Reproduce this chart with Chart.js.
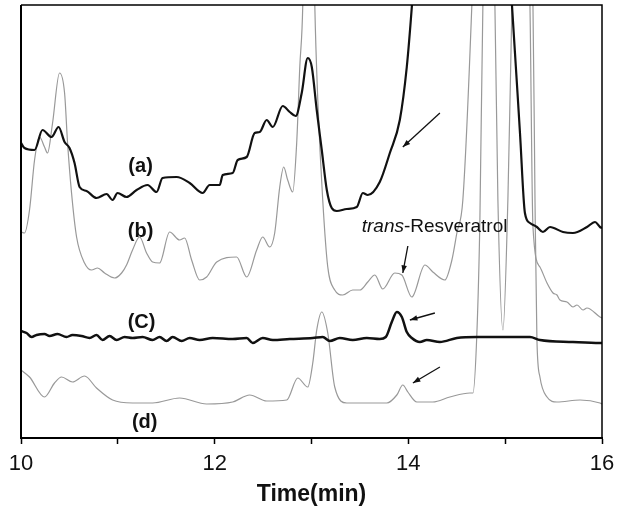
<!DOCTYPE html>
<html>
<head>
<meta charset="utf-8">
<script src="https://cdn.jsdelivr.net/npm/chart.js@4.4.1/dist/chart.umd.min.js"></script>
<style>
  html, body { margin: 0; padding: 0; background: #fff; }
  #wrap { width: 625px; height: 506px; }
</style>
</head>
<body>
<div id="wrap"><canvas id="chart" width="625" height="506"></canvas></div>
<script>
// ==== Data: retention time (min) and detector signal (arbitrary units, 433 = top of frame) ====
const aTime = [10.00, 10.036, 10.14, 10.222, 10.315, 10.388, 10.45, 10.501, 10.553, 10.605, 10.677, 10.78, 10.884, 10.946, 10.997, 11.09, 11.194, 11.307, 11.40, 11.462, 11.607, 11.742, 11.876, 11.948, 12.052, 12.083, 12.186, 12.238, 12.331, 12.413, 12.465, 12.537, 12.60, 12.703, 12.775, 12.837, 12.899, 12.961, 13.003, 13.054, 13.106, 13.158, 13.209, 13.261, 13.364, 13.468, 13.53, 13.581, 13.705, 13.809, 13.912, 13.984, 14.036, 14.30, 14.80, 15.07, 15.153, 15.204, 15.256, 15.328, 15.39, 15.463, 15.597, 15.70, 15.845, 15.928, 15.979, 16.00];
const aSignal = [295, 290, 288, 308, 301, 311, 296, 290, 275, 251, 247, 240, 244, 238, 245, 241, 248, 253, 246, 260, 261, 255, 245, 253, 253, 263, 265, 278, 281, 305, 306, 318, 311, 332, 326, 322, 345, 380, 371, 328, 288, 248, 230, 227, 229, 231, 245, 243, 256, 285, 318, 371, 431, 800, 800, 433, 305, 225, 215, 211, 206, 211, 206, 205, 211, 216, 211, 210];

const bTime = [10.00, 10.036, 10.088, 10.14, 10.191, 10.243, 10.274, 10.326, 10.398, 10.45, 10.481, 10.522, 10.574, 10.656, 10.729, 10.791, 10.863, 10.966, 11.039, 11.09, 11.152, 11.225, 11.297, 11.359, 11.431, 11.535, 11.638, 11.69, 11.762, 11.845, 11.917, 12.021, 12.227, 12.331, 12.434, 12.496, 12.568, 12.62, 12.672, 12.713, 12.754, 12.806, 12.847, 12.879, 12.91, 12.97, 13.034, 13.065, 13.116, 13.168, 13.24, 13.323, 13.426, 13.499, 13.581, 13.654, 13.736, 13.86, 13.933, 14.036, 14.171, 14.253, 14.377, 14.45, 14.501, 14.563, 14.656, 14.78, 14.894, 14.925, 14.977, 15.028, 15.07, 15.16, 15.256, 15.287, 15.359, 15.432, 15.494, 15.535, 15.566, 15.638, 15.70, 15.742, 15.804, 15.845, 15.979, 16.00];
const bSignal = [206, 205, 228, 278, 301, 291, 285, 315, 365, 345, 295, 245, 201, 175, 168, 170, 165, 160, 165, 173, 188, 201, 185, 176, 175, 206, 198, 200, 178, 158, 161, 176, 181, 161, 188, 201, 191, 205, 251, 271, 258, 246, 295, 371, 433, 800, 433, 338, 238, 171, 148, 143, 148, 148, 156, 163, 149, 165, 163, 141, 173, 166, 158, 178, 205, 238, 433, 800, 433, 238, 108, 238, 433, 800, 433, 211, 171, 155, 145, 143, 138, 136, 131, 133, 128, 130, 121, 120];

const cTime = [10.00, 10.057, 10.109, 10.16, 10.243, 10.295, 10.377, 10.47, 10.532, 10.625, 10.708, 10.78, 10.842, 10.915, 10.987, 11.07, 11.152, 11.256, 11.359, 11.431, 11.504, 11.566, 11.659, 11.742, 11.845, 11.979, 12.186, 12.331, 12.393, 12.496, 12.60, 12.775, 13.013, 13.116, 13.189, 13.292, 13.426, 13.571, 13.705, 13.767, 13.829, 13.881, 13.933, 13.984, 14.036, 14.119, 14.191, 14.326, 14.501, 14.708, 15.018, 15.256, 15.359, 15.70, 15.979, 16.00];
const cSignal = [107, 105, 101, 103, 104, 102, 104, 101, 103, 102, 100, 103, 98, 102, 98, 101, 100, 101, 98, 101, 97, 101, 97, 100, 98, 100, 99, 100, 95, 100, 98, 99, 100, 101, 97, 100, 98, 100, 99, 101, 116, 126, 121, 106, 100, 96, 98, 96, 100, 101, 101, 101, 98, 96, 95, 95];

const dTime = [10.00, 10.088, 10.243, 10.346, 10.419, 10.532, 10.656, 10.78, 10.946, 11.152, 11.359, 11.638, 11.917, 12.186, 12.362, 12.537, 12.744, 12.858, 12.961, 13.013, 13.054, 13.106, 13.168, 13.24, 13.364, 13.571, 13.778, 13.881, 13.943, 13.995, 14.088, 14.253, 14.429, 14.636, 14.667, 14.708, 14.739, 14.77, 15.00, 15.287, 15.308, 15.328, 15.359, 15.432, 15.535, 15.773, 15.979, 16.00];
const dSignal = [68, 61, 41, 55, 61, 56, 62, 50, 38, 35, 35, 40, 34, 36, 43, 37, 38, 60, 51, 75, 108, 126, 105, 51, 35, 35, 35, 43, 53, 46, 36, 36, 41, 45, 45, 105, 218, 433, 800, 433, 238, 98, 61, 41, 36, 38, 35, 34];

const xTicks = [10, 11, 12, 13, 14, 15, 16];
const xLabels = ['10', '', '12', '', '14', '', '16'];

// ==== Annotations (data coordinates) ====
const traceLabels = [
  { text: '(a)', x: 11.235, y: 272 },
  { text: '(b)', x: 11.235, y: 207 },
  { text: '(C)', x: 11.245, y: 116 },
  { text: '(d)', x: 11.277, y: 16 }
];
const peakName = { italic: 'trans', rest: '-Resveratrol', x: 13.519, y: 211 };
const arrows = [
  { x1: 14.326, y1: 325, x2: 13.943, y2: 291 },
  { x1: 13.995, y1: 192, x2: 13.943, y2: 165 },
  { x1: 14.274, y1: 125, x2: 14.016, y2: 118 },
  { x1: 14.326, y1: 71, x2: 14.047, y2: 55 }
];

function toPoints(xs, ys) {
  return xs.map((x, i) => ({ x: x, y: ys[i] }));
}

function trace(data, color, width) {
  return {
    data: data,
    borderColor: color,
    borderWidth: width,
    pointRadius: 0,
    cubicInterpolationMode: 'monotone',
    fill: false
  };
}

// ==== Frame, labels and arrows ====
const decorPlugin = {
  id: 'decor',
  afterDatasetsDraw(chart) {
    const ctx = chart.ctx;
    const a = chart.chartArea;
    const xs = chart.scales.x;
    const ys = chart.scales.y;
    ctx.save();

    // frame: left, top, right (bottom is the x axis border)
    ctx.strokeStyle = '#000';
    ctx.lineWidth = 2;
    ctx.beginPath();
    ctx.moveTo(a.left, a.bottom);
    ctx.lineTo(a.left, a.top);
    ctx.stroke();
    ctx.lineWidth = 1.5;
    ctx.beginPath();
    ctx.moveTo(a.left, a.top);
    ctx.lineTo(a.right, a.top);
    ctx.lineTo(a.right, a.bottom);
    ctx.stroke();

    ctx.fillStyle = '#111';
    ctx.textBaseline = 'middle';
    ctx.textAlign = 'center';
    ctx.font = 'bold 20px "Liberation Sans", Arial, sans-serif';
    traceLabels.forEach(l => {
      ctx.fillText(l.text, xs.getPixelForValue(l.x), ys.getPixelForValue(l.y));
    });

    ctx.textAlign = 'left';
    let px = xs.getPixelForValue(peakName.x);
    const py = ys.getPixelForValue(peakName.y);
    ctx.font = 'italic 19px "Liberation Sans", Arial, sans-serif';
    ctx.fillText(peakName.italic, px, py);
    px += ctx.measureText(peakName.italic).width;
    ctx.font = '19px "Liberation Sans", Arial, sans-serif';
    ctx.fillText(peakName.rest, px, py);

    ctx.strokeStyle = '#111';
    ctx.lineWidth = 1.3;
    arrows.forEach(ar => {
      const x1 = xs.getPixelForValue(ar.x1), y1 = ys.getPixelForValue(ar.y1);
      const x2 = xs.getPixelForValue(ar.x2), y2 = ys.getPixelForValue(ar.y2);
      const ang = Math.atan2(y2 - y1, x2 - x1);
      ctx.beginPath();
      ctx.moveTo(x1, y1);
      ctx.lineTo(x2, y2);
      ctx.stroke();
      ctx.beginPath();
      ctx.moveTo(x2, y2);
      ctx.lineTo(x2 - 8 * Math.cos(ang - 0.35), y2 - 8 * Math.sin(ang - 0.35));
      ctx.lineTo(x2 - 8 * Math.cos(ang + 0.35), y2 - 8 * Math.sin(ang + 0.35));
      ctx.closePath();
      ctx.fillStyle = '#111';
      ctx.fill();
    });
    ctx.restore();
  }
};

new Chart(document.getElementById('chart').getContext('2d'), {
  type: 'line',
  data: {
    datasets: [
      trace(toPoints(aTime, aSignal), '#111', 2.2),
      trace(toPoints(cTime, cSignal), '#111', 2.5),
      trace(toPoints(bTime, bSignal), '#999', 1.2),
      trace(toPoints(dTime, dSignal), '#999', 1.2)
    ]
  },
  options: {
    responsive: false,
    animation: false,
    events: [],
    layout: { padding: { left: 21, right: 23, top: 5, bottom: 0 } },
    plugins: { legend: { display: false }, tooltip: { enabled: false } },
    scales: {
      x: {
        type: 'linear',
        min: 10,
        max: 16,
        afterBuildTicks: s => { s.ticks = xTicks.map(v => ({ value: v })); },
        afterFit: s => { s.height = 68; },
        ticks: {
          autoSkip: false,
          maxRotation: 0,
          padding: 7,
          color: '#111',
          font: { family: '"Liberation Sans", Arial, sans-serif', size: 22 },
          callback: (v) => xLabels[xTicks.indexOf(v)] ?? ''
        },
        grid: { drawOnChartArea: false, tickLength: 6, tickWidth: 1.5, color: '#000' },
        border: { display: true, color: '#000', width: 2 },
        title: {
          display: true,
          text: 'Time(min)',
          color: '#111',
          padding: { top: 0, bottom: -2 },
          font: { family: '"Liberation Sans", Arial, sans-serif', size: 23, weight: 'bold' }
        }
      },
      y: { display: false, min: 0, max: 433 }
    }
  },
  plugins: [decorPlugin]
});
</script>
</body>
</html>
